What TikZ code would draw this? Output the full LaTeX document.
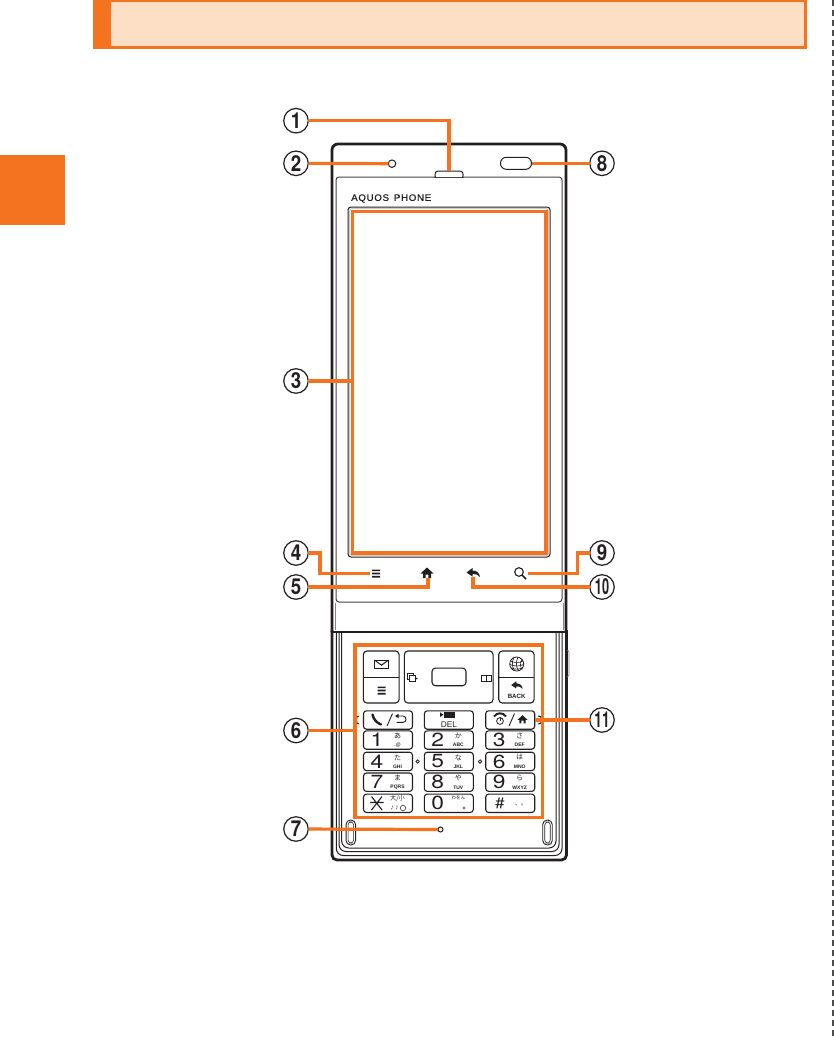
\documentclass[tikz,border=0pt]{standalone}
\usepackage{fontspec}
\usepackage{graphicx}
\setmainfont{Liberation Sans}
\newfontfamily\cjkf{Noto Sans CJK JP}
\newfontfamily\herosf{TeX Gyre Heros}
\definecolor{org}{HTML}{F47320}
\definecolor{peach}{HTML}{FDDFC5}
\definecolor{ink}{HTML}{231F20}
\tikzset{
  x=1pt,y=-1pt,
  num/.style={circle,draw=ink,line width=1.2pt,fill=white,minimum size=24.5pt,inner sep=0pt,outer sep=0pt,font=\herosf\bfseries\fontsize{22}{22}\selectfont,text=ink},
  lead/.style={draw=org,line width=3.2pt,line join=miter},
  body/.style={draw=ink,line width=2.8pt},
  thinl/.style={draw=ink,line width=1pt},
  greyl/.style={draw=ink!55,line width=1pt},
  keybox/.style={draw=ink,line width=1.1pt,rounded corners=3pt,fill=white,inner sep=0pt,outer sep=0pt,minimum width=49pt,minimum height=18.4pt},
  softbox/.style={draw=ink,line width=1.1pt,rounded corners=3.5pt,inner sep=0pt,outer sep=0pt},
  dgt/.style={inner sep=0pt,text=ink,font=\herosf\fontsize{19}{19}\selectfont},
  kana/.style={inner sep=0pt,text=ink,font=\cjkf\fontsize{7}{7}\selectfont},
  lat/.style={inner sep=0pt,text=ink,font=\bfseries\fontsize{5}{5}\selectfont},
  homeic/.pic={\fill[ink] (-6.5,0.5)--(0,-5.5)--(6.5,0.5)--(4,0.5)--(4,5)--(1.3,5)--(1.3,1.5)--(-1.3,1.5)--(-1.3,5)--(-4,5)--(-4,0.5)--cycle;},
  backic/.pic={\fill[ink] (-6.5,-0.5)--(-0.5,-5)--(-0.5,-2.5).. controls (4,-2.5) and (6.5,0) .. (7,4).. controls (5,1.5) and (3,1) .. (-0.5,1)--(-0.5,3.5)--cycle;},
  menuic/.pic={\fill[ink] (-4,-4)rectangle(4,-2.4) (-4,-.8)rectangle(4,.8) (-4,2.4)rectangle(4,4);},
}
\newcommand{\dkey}[6]{%
  \node[keybox] (#1) at (#2,#3) {};
  \node[dgt] (#1-d) at (#2-11,#3) {\scalebox{1.2}[1]{#4}};
  \node[kana] (#1-k) at (#2+9.5,#3-4) {#5};
  \node[lat] (#1-l) at (#2+9.5,#3+5.2) {#6};
}
\begin{document}
\begin{tikzpicture}
\useasboundingbox (0,0) rectangle (834,1038);
\fill[white] (0,0) rectangle (834,1038);
% page furniture
\fill[org] (93,0) rectangle (807,49);
\fill[peach] (111,2) rectangle (804,46);
\fill[org] (0,155) rectangle (65,225);
\draw[ink!80,line width=1.4pt,dash pattern=on 6pt off 4pt] (833,0) -- (833,1038);
% lower body
\draw[body,rounded corners=5pt] (332,630) -- (332,860) -- (566.5,860) -- (566.5,630);
\draw[thinl,rounded corners=7pt] (336.3,632) -- (336.3,855.5) -- (562,855.5) -- (562,632);
\draw[thinl,rounded corners=7pt] (339,632) -- (339,851.5) -- (559,851.5) -- (559,632);
\draw[thinl,rounded corners=7pt] (341.7,632) -- (341.7,848) -- (556,848) -- (556,632);
\draw[greyl,line width=.8pt] (567.5,650) -- (569,652) -- (569,675) -- (567.5,677);
% upper slide
\path[fill=white,rounded corners=6pt] (332,632) -- (332,144) -- (566,144) -- (566,632) -- cycle;
\draw[body,rounded corners=6pt] (332,632) -- (332,144) -- (566,144) -- (566,632);
\draw[body] (332,632) -- (566,632);
\draw[greyl] (335,603) -- (335,630);
\draw[greyl] (563.5,603) -- (563.5,630);
\draw[greyl,rounded corners=3pt,draw=ink!85,line width=1pt] (336,602) rectangle (562,177);
\node[draw=ink,line width=1pt,fill=white,rounded corners=3pt,minimum width=28pt,minimum height=8pt,inner sep=0pt] (spk) at (449,175) {};
\fill[white] (434,177.5) rectangle (464,180);
\draw[ink!85,line width=1pt] (434,177) -- (464,177);
\node[circle,draw=ink,line width=1pt,minimum size=7.5pt,inner sep=0pt,outer sep=0pt] (mic) at (392,163.7) {};
\node[draw=ink,line width=1pt,rounded corners=5.8pt,minimum width=31pt,minimum height=12pt,inner sep=0pt,outer sep=0pt] (sensor) at (516,163.3) {};
\node[inner sep=0pt,text=ink,anchor=west] (brand) at (351,198.5) {\resizebox{80pt}{6.6pt}{\addfontfeature{LetterSpace=7,FakeBold=0.4}AQUOS\hspace{.5em}PHONE}};
\draw[ink,line width=1pt,rounded corners=3pt] (348,207) rectangle (550,557);
\draw[ink!35,line width=.7pt,rounded corners=2pt] (349.7,208.7) rectangle (548.3,555.3);
% touch keys
\path (376,573.5) pic (icmenu) {menuic};
\coordinate (menuR) at (370,573.5);
\path (427,573) pic (ichome) {homeic};
\coordinate (homeB) at (428,578);
\path (473,573) pic (icback) {backic};
\coordinate (backB) at (473,577);
\node[circle,draw=ink,line width=1.1pt,minimum size=8.6pt,inner sep=0pt,outer sep=0pt] (search) at (519,572) {};
\draw[ink,line width=1.7pt] (search) ++(3,3) -- ++(4,4);
\coordinate (searchR) at (528,573.5);
% soft key block
\node[softbox,minimum width=35.7pt,minimum height=52pt] (softL) at (381.2,677) {};
\draw[thinl] (softL.west) -- (softL.east);
\node[softbox,minimum width=88.7pt,minimum height=52pt] (softC) at (448.7,677) {};
\node[softbox,minimum width=34pt,minimum height=17.7pt] (cbtn) at (449,676.9) {};
\node[softbox,minimum width=35.3pt,minimum height=52pt] (softR) at (516.4,677) {};
\draw[thinl] (softR.west) -- (softR.east);
\draw[ink,line width=1pt] (374.4,660) rectangle (388.6,668.4);
\draw[ink,line width=1pt] (374.4,660) -- (381.5,665.2) -- (388.6,660);
\path (381.5,690.5) pic (icmenu2) {menuic};
\draw[ink,line width=.8pt] (407.5,673) rectangle (413.5,679);
\draw[ink,line width=.8pt,fill=white] (409.5,675) rectangle (415,681.3);
\fill[ink] (415,677.2) -- (418,678.5) -- (415,679.8) -- cycle;
\draw[ink,line width=.8pt] (481.3,675.5) rectangle (486,681.2) (486,675.5) rectangle (491,681.2);
\node[circle,draw=ink,line width=.8pt,minimum size=14pt,inner sep=0pt] (globe) at (516.7,664) {};
\draw[ink,line width=.6pt] (510.5,661) .. controls (515,663) and (519,663) .. (523,661)
  (510,664.5) .. controls (515,666.5) and (519,666.5) .. (523.5,664.5)
  (511,668) .. controls (515,669.5) and (519,669.5) .. (522.5,668)
  (514,657.5) .. controls (511.5,662) and (512,667) .. (514.5,670.5)
  (518,657.2) .. controls (515.5,662) and (516,667) .. (518.5,670.8)
  (522,659) .. controls (520,662) and (520,667) .. (522,669.5);
\path (516.7,685.5) pic[scale=.85] (icback2) {backic};
\node[inner sep=0pt,text=ink,font=\bfseries\fontsize{6.2}{6.2}\selectfont] (backt) at (516.7,696) {BACK};
% side details
\draw[thinl] (359,716) .. controls (355.5,715) and (355.5,725) .. (359,724);
\draw[thinl] (538,716) .. controls (543,714) and (543,726) .. (538,724);
% function keys
\node[keybox] (kCall) at (388,720) {};
\node[keybox] (kDel) at (448.8,720) {};
\node[keybox] (kEnd) at (510.2,720) {};
\draw[ink,line width=2.4pt,line cap=round] (372.5,714.5) .. controls (373.5,719) and (376,722.5) .. (381,724.5);
\draw[ink,line width=.9pt] (387,726) -- (392.5,713.5);
\draw[ink,line width=.9pt] (397,716) -- (403,716) .. controls (407,716) and (407,722.4) .. (403,722.4) -- (396.5,722.4);
\fill[ink] (395,716) -- (398.5,713.8) -- (398.5,718.2) -- cycle;
\fill[ink] (443.5,712) rectangle (455,717.5);
\fill[ink] (443.5,714.7) -- (440,712.3) -- (440,717) -- cycle;
\node[inner sep=0pt,text=ink,font=\fontsize{8.3}{8.3}\selectfont] (delt) at (449,724.3) {DEL};
\draw[ink,line width=1.9pt] (494,716.5) .. controls (497,712.2) and (503,712.2) .. (506,716.5);
\draw[ink,line width=.8pt] (500,721) circle (3.4);
\draw[ink,line width=.9pt] (500,716.5) -- (500,721);
\draw[ink,line width=.9pt] (509,726) -- (514.5,713.5);
\path (522.5,719.5) pic[scale=.78] (ichome2) {homeic};
% number keys
\dkey{k1}{388}{740}{1}{あ}{.@}
\dkey{k2}{448.8}{740}{2}{か}{ABC}
\dkey{k3}{510.2}{740}{3}{さ}{DEF}
\dkey{k4}{388}{761.4}{4}{た}{GHI}
\dkey{k5}{448.8}{761.4}{5}{な}{JKL}
\dkey{k6}{510.2}{761.4}{6}{は}{MNO}
\dkey{k7}{388}{782.2}{7}{ま}{PQRS}
\dkey{k8}{448.8}{782.2}{8}{や}{TUV}
\dkey{k9}{510.2}{782.2}{9}{ら}{WXYZ}
\node[keybox] (kStar) at (388,803.3) {};
\draw[ink,line width=1.1pt] (371.5,796.5) -- (382,810) (382,796.5) -- (371.5,810) (370,802.5) -- (383.5,802.5) ;
\node[kana,font=\cjkf\fontsize{6.2}{6.2}\selectfont] (kStar-k) at (397.5,798.8) {大/小};
\node[lat,font=\cjkf\fontsize{4.6}{4.6}\selectfont] (kStar-l) at (394.5,808) {♪♪};
\node[draw=ink,line width=.5pt,circle,minimum size=5.5pt,inner sep=0pt] (kStar-m) at (403,808) {};
\node[keybox] (k0) at (448.8,803.3) {};
\node[dgt] (k0-d) at (437.8,803.3) {\scalebox{1.2}[1]{0}};
\node[kana,font=\cjkf\fontsize{4.6}{4.6}\selectfont] (k0-k) at (458.5,798) {わをん};
\node[lat,font=\bfseries\fontsize{6}{6}\selectfont] (k0-l) at (464,809) {+};
\node[keybox] (kHash) at (510.2,803.3) {};
\node[dgt,font=\herosf\fontsize{15}{15}\selectfont] (kHash-d) at (500,803.3) {\scalebox{1.15}[1]{\#}};
\node[kana,font=\cjkf\fontsize{6}{6}\selectfont] (kHash-l) at (521,805) {、。};
\node[circle,draw=ink,line width=.8pt,minimum size=3.4pt,inner sep=0pt] (dotL) at (417.7,761.5) {};
\node[circle,draw=ink,line width=.8pt,minimum size=3.4pt,inner sep=0pt] (dotR) at (480,761.5) {};
% ovals and microphone
\node[draw=ink,line width=.9pt,rounded corners=4.5pt,minimum width=9.5pt,minimum height=25pt,inner sep=0pt] (ovL) at (350.8,832.5) {};
\node[draw=ink,line width=.6pt,rounded corners=3pt,minimum width=5.5pt,minimum height=21pt,inner sep=0pt] (ovLi) at (350.8,832.5) {};
\node[draw=ink,line width=.9pt,rounded corners=4.5pt,minimum width=9.5pt,minimum height=25pt,inner sep=0pt] (ovR) at (547.5,832.5) {};
\node[draw=ink,line width=.6pt,rounded corners=3pt,minimum width=5.5pt,minimum height=21pt,inner sep=0pt] (ovRi) at (547.5,832.5) {};
\node[circle,draw=ink,line width=1pt,minimum size=5pt,inner sep=0pt,outer sep=0pt] (mic2) at (440.5,829.5) {};
% orange targets
\node[draw=org,line width=3.2pt,inner sep=0pt,outer sep=0pt,minimum width=193.3pt,minimum height=341.3pt] (screen) at (449.3,382.3) {};
\node[draw=org,line width=3.2pt,inner sep=0pt,outer sep=0pt,minimum width=187.7pt,minimum height=172.7pt] (pad) at (448.9,731.3) {};
% number circles
\node[num] (n1) at (296,120.7) {\scalebox{.85}[1]{1}};
\node[num] (n2) at (296,163.3) {\scalebox{.85}[1]{2}};
\node[num] (n3) at (296,381) {\scalebox{.85}[1]{3}};
\node[num] (n4) at (296,553) {\scalebox{.85}[1]{4}};
\node[num] (n5) at (296,587) {\scalebox{.85}[1]{5}};
\node[num] (n6) at (296,730.5) {\scalebox{.85}[1]{6}};
\node[num] (n7) at (296,829) {\scalebox{.85}[1]{7}};
\node[num] (n8) at (602,163.3) {\scalebox{.85}[1]{8}};
\node[num] (n9) at (602,553) {\scalebox{.85}[1]{9}};
\node[num] (n10) at (602,587) {\scalebox{.58}[1]{10}};
\node[num] (n11) at (602,720) {\scalebox{.62}[1]{11}};
% leaders
\draw[lead] (n1) -- (n1 -| spk) -- (spk.north);
\draw[lead] (n2) -- (mic);
\draw[lead] (n3) -- (screen.west |- n3);
\draw[lead] (n4.east) -- (320,553) -- (320,573.5) -- (menuR);
\draw[lead] (n5) -- (n5 -| homeB) -- (homeB);
\draw[lead] (n6) -- (pad.west |- n6);
\draw[lead] (n7) -- (mic2);
\draw[lead] (n8) -- (sensor);
\draw[lead] (n9.west) -- (577.5,553) -- (577.5,573.5) -- (searchR);
\draw[lead] (n10) -- (n10 -| backB) -- (backB);
\draw[lead] (n11) -- (535,720);
\end{tikzpicture}
\end{document}
